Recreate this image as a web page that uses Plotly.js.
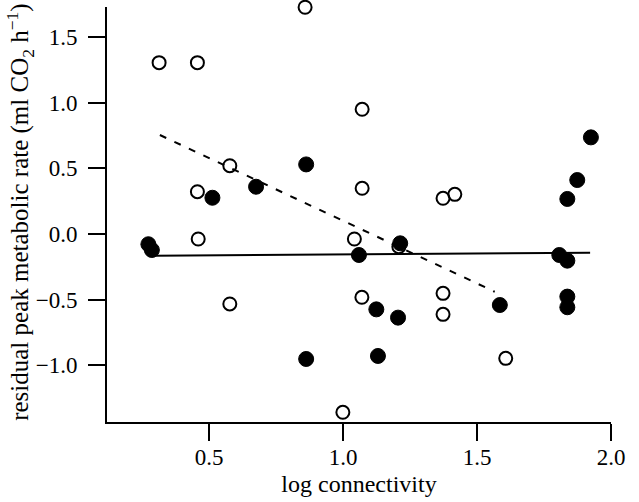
<!DOCTYPE html>
<html>
<head>
<meta charset="utf-8">
<script src="https://cdn.plot.ly/plotly-3.0.1.min.js"></script>
<style>html,body{margin:0;padding:0;background:#fff;}#chart{width:639px;height:502px;}</style>
</head>
<body>
<div id="chart"></div>
<script>
// open circles
var openX = [0.313, 0.456, 0.858, 1.071, 0.577, 0.456, 1.071, 1.373, 1.417, 0.459, 1.042, 0.577, 1.070, 0.999, 1.208, 1.373, 1.373, 1.607];
var openY = [1.305, 1.305, 1.727, 0.950, 0.520, 0.322, 0.348, 0.272, 0.302, -0.038, -0.038, -0.533, -0.482, -1.358, -0.097, -0.452, -0.612, -0.947];
// filled circles
var filledX = [0.512, 0.675, 0.862, 1.925, 1.874, 1.837, 0.273, 0.286, 1.059, 0.862, 1.213, 1.807, 1.837, 1.124, 1.205, 1.585, 1.837, 1.837, 1.130];
var filledY = [0.276, 0.360, 0.530, 0.736, 0.411, 0.267, -0.078, -0.122, -0.160, -0.952, -0.071, -0.160, -0.203, -0.574, -0.637, -0.541, -0.477, -0.558, -0.929];
// fit lines
var solidX = [0.294, 1.922];
var solidY = [-0.165, -0.143];
var dashX = [0.316, 1.566];
var dashY = [0.754, -0.440];
var xTicks = [0.5, 1.0, 1.5, 2.0];
var yTicks = [-1.0, -0.5, 0.0, 0.5, 1.0, 1.5];

var font = 'Liberation Serif, Times New Roman, serif';
var traces = [
  {x: openX, y: openY, type: 'scatter', mode: 'markers', cliponaxis: false,
   marker: {symbol: 'circle', size: 13, color: 'rgba(0,0,0,0)', line: {color: '#000', width: 2}}},
  {x: filledX, y: filledY, type: 'scatter', mode: 'markers', cliponaxis: false,
   marker: {symbol: 'circle', size: 15, color: '#000', line: {color: '#000', width: 1}}},
  {x: solidX, y: solidY, type: 'scatter', mode: 'lines', line: {color: '#000', width: 2}},
  {x: dashX, y: dashY, type: 'scatter', mode: 'lines', line: {color: '#000', width: 2, dash: '7px,9px'}}
];
var layout = {
  width: 639, height: 502,
  margin: {l: 107, r: 28, t: 7, b: 80},
  paper_bgcolor: '#fff', plot_bgcolor: '#fff',
  showlegend: false,
  font: {family: font, size: 23, color: '#000'},
  xaxis: {range: [0.1185, 2.0], tickvals: xTicks, ticktext: xTicks.map(function(v){return v.toFixed(1);}),
    showgrid: false, zeroline: false, showline: true, linecolor: '#000', linewidth: 2,
    ticks: 'outside', ticklen: 17, tickwidth: 2, tickcolor: '#000', ticklabelstandoff: -4,
    tickfont: {family: font, size: 23, color: '#000'},
    title: {text: 'log connectivity', font: {family: font, size: 24, color: '#000'}, standoff: 7}},
  yaxis: {range: [-1.432, 1.729], tickvals: yTicks, ticktext: yTicks.map(function(v){return (v<0?'\u2212':'') + Math.abs(v).toFixed(1);}),
    showgrid: false, zeroline: false, showline: true, linecolor: '#000', linewidth: 2,
    ticks: 'outside', ticklen: 17, tickwidth: 2, tickcolor: '#000', ticklabelstandoff: 6,
    tickfont: {family: font, size: 23, color: '#000'}},
  annotations: [{
    text: 'residual peak metabolic rate (ml CO<sub>2</sub> h<sup>\u22121</sup>)',
    xref: 'paper', yref: 'paper', x: -0.173, y: 0.506, xanchor: 'center', yanchor: 'middle',
    textangle: -90, showarrow: false, font: {family: font, size: 25, color: '#000'}
  }]
};
Plotly.newPlot('chart', traces, layout, {staticPlot: true, displayModeBar: false});
</script>
</body>
</html>
